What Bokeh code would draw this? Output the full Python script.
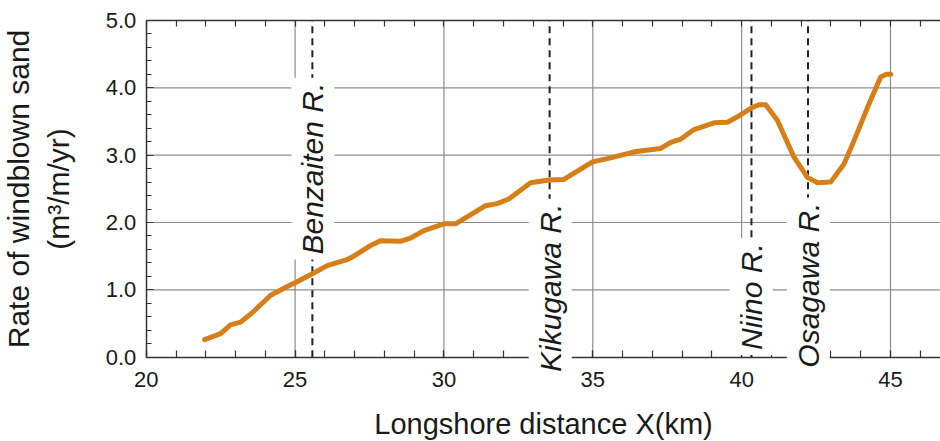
from bokeh.plotting import figure
from bokeh.models import (Range1d, LinearAxis, FixedTicker, PrintfTickFormatter,
                          CustomJSTickFormatter, Label, ColumnDataSource)
from bokeh.embed import file_html
from bokeh.resources import INLINE

# ---- data ----
distance_km = [21.96, 22.50, 22.83, 23.17, 23.56, 24.18, 24.74, 25.02, 25.58, 26.08,
               26.75, 26.97, 27.54, 27.87, 28.54, 28.88, 29.33, 30.00, 30.39, 31.40,
               31.79, 32.18, 32.91, 33.53, 34.03, 34.99, 35.60, 36.39, 37.28, 37.62,
               37.96, 38.40, 39.07, 39.52, 39.86, 40.36, 40.60, 40.81, 41.20, 41.76,
               42.21, 42.55, 42.99, 43.44, 43.78, 44.23, 44.67, 44.85, 45.01]
sand_rate = [0.26, 0.35, 0.48, 0.52, 0.66, 0.92, 1.05, 1.11, 1.24, 1.36,
             1.45, 1.50, 1.66, 1.73, 1.72, 1.77, 1.88, 1.98, 1.98, 2.25,
             2.28, 2.35, 2.59, 2.63, 2.64, 2.90, 2.96, 3.05, 3.10, 3.19,
             3.24, 3.38, 3.48, 3.49, 3.57, 3.71, 3.75, 3.75, 3.52, 2.97,
             2.67, 2.59, 2.60, 2.87, 3.22, 3.71, 4.16, 4.20, 4.20]

river_names = ["Benzaiten R.", "Kikugawa R.", "Niino R.", "Osagawa R."]
river_x = [25.58, 33.55, 40.33, 42.23]

x_major_ticks = [20, 25, 30, 35, 40, 45]
x_grid_ticks = [25, 30, 35, 40, 45]
y_major_ticks = [0, 1, 2, 3, 4, 5]
y_grid_ticks = [1, 2, 3, 4]
X_MIN, X_MAX = 20, 46.68      # right side of the chart is cut by the picture edge
Y_MIN, Y_MAX = 0, 5

FONT = "Liberation Sans"
TXT = "#1a1a1a"
AX = "#333333"
GRID = "#8c8c8c"

# The frame covers the whole canvas; axes are pinned at data locations so that
# rotated river labels and tick labels are never clipped.
p = figure(width=940, height=441, output_backend="svg", toolbar_location=None,
           x_range=Range1d(15.104, 46.68), y_range=Range1d(-1.252, 5.297),
           min_border_left=0, min_border_right=0, min_border_top=0,
           min_border_bottom=0, outline_line_color=None,
           background_fill_color="white", border_fill_color="white")

# grids (limited to the data box)
p.xgrid.visible = False
p.ygrid.visible = False
p.segment(x0=x_grid_ticks, y0=[Y_MIN] * len(x_grid_ticks),
          x1=x_grid_ticks, y1=[Y_MAX] * len(x_grid_ticks),
          line_color=GRID, line_width=1.2)
p.segment(x0=[X_MIN] * len(y_grid_ticks), y0=y_grid_ticks,
          x1=[X_MAX] * len(y_grid_ticks), y1=y_grid_ticks,
          line_color=GRID, line_width=1.2)

# bottom axis, fixed at y = 0
xa = p.xaxis[0]
xa.fixed_location = Y_MIN
xa.bounds = (X_MIN, X_MAX)
xa.ticker = FixedTicker(ticks=x_major_ticks, minor_ticks=list(range(20, 47)))
xa.major_tick_in = 7
xa.major_tick_out = 0
xa.minor_tick_in = 7
xa.minor_tick_out = 0
xa.major_label_standoff = 15
xa.major_label_text_font = FONT
xa.major_label_text_font_size = "22px"
xa.major_label_text_color = TXT
xa.axis_label = "Longshore distance X(km)"
xa.axis_label_text_font = FONT
xa.axis_label_text_font_size = "29px"
xa.axis_label_text_font_style = "normal"
xa.axis_label_text_color = TXT
xa.axis_label_standoff = 17
xa.axis_line_color = AX
xa.axis_line_width = 1.5
xa.major_tick_line_color = AX
xa.minor_tick_line_color = AX
xa.major_tick_line_width = 1.2
xa.minor_tick_line_width = 1.2

# left axis, fixed at x = 20
ya = p.yaxis[0]
ya.fixed_location = X_MIN
ya.bounds = (Y_MIN, Y_MAX)
ya.ticker = FixedTicker(ticks=y_major_ticks,
                        minor_ticks=[i * 0.2 for i in range(26)])
ya.formatter = PrintfTickFormatter(format="%.1f")
ya.major_tick_in = 7
ya.major_tick_out = 0
ya.minor_tick_in = 5
ya.minor_tick_out = 0
ya.major_label_standoff = 10
ya.major_label_text_font = FONT
ya.major_label_text_font_size = "22px"
ya.major_label_text_color = TXT
ya.axis_label = "Rate of windblown sand\n(m³/m/yr)"
ya.axis_label_text_font = FONT
ya.axis_label_text_font_size = "30px"
ya.axis_label_text_font_style = "normal"
ya.axis_label_text_color = TXT
ya.axis_label_standoff = 28
ya.axis_line_color = AX
ya.axis_line_width = 1.5
ya.major_tick_line_color = AX
ya.minor_tick_line_color = AX
ya.major_tick_line_width = 1.2
ya.minor_tick_line_width = 1.2

# top axis (frame with inward ticks, no labels), fixed at y = 5
top = LinearAxis(fixed_location=Y_MAX, bounds=(X_MIN, X_MAX),
                 ticker=FixedTicker(ticks=list(range(20, 47))),
                 formatter=CustomJSTickFormatter(code="return ''"),
                 major_tick_in=6, major_tick_out=0, minor_tick_in=0, minor_tick_out=0,
                 axis_line_color=AX, axis_line_width=1.5,
                 major_tick_line_color=AX, major_tick_line_width=1.2,
                 major_label_standoff=0, major_label_text_font_size="8px")
p.add_layout(top, "above")

# river dashed lines
p.segment(x0=river_x, y0=[Y_MIN] * len(river_x), x1=river_x, y1=[Y_MAX] * len(river_x),
          line_color="#222222", line_width=2, line_dash="7 5")

# curve
src = ColumnDataSource(dict(x=distance_km, y=sand_rate))
p.line("x", "y", source=src, line_color="#D67E18", line_width=5,
       line_join="round", line_cap="round")

# river labels (rotated, with white boxes)
label_pos = [(25.60, 2.80), (33.57, 1.03), (40.32, 0.90), (42.24, 1.07)]
for name, (lx, ly) in zip(river_names, label_pos):
    p.add_layout(Label(x=lx, y=ly, text=name, angle=90, angle_units="deg",
                       text_align="center", text_baseline="middle",
                       text_font=FONT, text_font_style="italic",
                       text_font_size="30px", text_color=TXT,
                       background_fill_color="white", padding=5))

open("out.html", "w").write(file_html(p, INLINE))
